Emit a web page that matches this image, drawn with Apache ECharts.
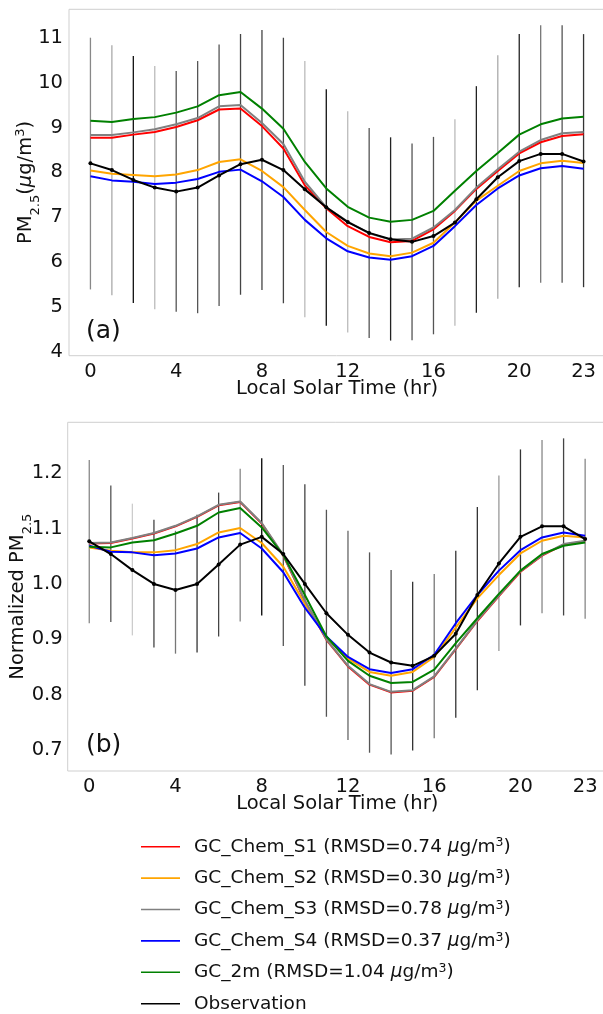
<!DOCTYPE html>
<html>
<head>
<meta charset="utf-8">
<script src="https://cdn.jsdelivr.net/npm/echarts@6/dist/echarts.min.js"></script>
<style>
html,body{margin:0;padding:0;background:#fff;}
#chart{width:603px;height:1014px;}
</style>
</head>
<body>
<div id="chart"></div>
<script>
// ---------- data ----------
const hours = [0,1,2,3,4,5,6,7,8,9,10,11,12,13,14,15,16,17,18,19,20,21,22,23];
const xTickLabels = [0,4,8,12,16,20,23];
const yTicksA = [4,5,6,7,8,9,10,11];
const yTicksB = [0.7,0.8,0.9,1.0,1.1,1.2];

const seriesNames = ['GC_Chem_S1','GC_Chem_S2','GC_Chem_S3','GC_Chem_S4','GC_2m','Observation'];
const rmsdLabels = ['0.74','0.30','0.78','0.37','1.04',null];

// panel (a): PM2.5 (ug/m3)
const s1A  = [8.77,8.77,8.84,8.90,9.01,9.16,9.40,9.42,9.03,8.53,7.71,7.20,6.80,6.56,6.44,6.47,6.73,7.14,7.63,8.03,8.42,8.67,8.81,8.85];
const s2A  = [8.04,7.97,7.94,7.91,7.95,8.05,8.23,8.29,8.03,7.67,7.16,6.67,6.36,6.19,6.13,6.21,6.43,6.88,7.37,7.70,8.03,8.20,8.26,8.21];
const s3A  = [8.83,8.83,8.89,8.96,9.07,9.21,9.47,9.50,9.10,8.63,7.79,7.22,6.90,6.64,6.50,6.52,6.77,7.16,7.66,8.07,8.46,8.72,8.87,8.90];
const s4A  = [7.91,7.82,7.79,7.74,7.77,7.85,8.01,8.06,7.80,7.45,6.94,6.53,6.24,6.10,6.05,6.13,6.36,6.80,7.27,7.64,7.93,8.09,8.14,8.08];
const m2A  = [9.15,9.12,9.19,9.23,9.33,9.47,9.72,9.79,9.42,8.97,8.23,7.64,7.23,6.99,6.90,6.94,7.14,7.59,8.03,8.43,8.84,9.07,9.20,9.24];
const obsA = [8.20,8.05,7.83,7.66,7.57,7.66,7.93,8.18,8.28,8.05,7.62,7.22,6.89,6.65,6.51,6.45,6.58,6.88,7.40,7.89,8.25,8.41,8.41,8.24];
const errHighA = [11.00,10.83,10.59,10.37,10.26,10.48,10.85,11.08,11.17,11.00,10.48,9.85,9.36,8.99,8.78,8.64,8.79,9.18,9.92,10.61,11.08,11.28,11.28,11.08];
const errLowA  = [5.39,5.26,5.09,4.95,4.89,4.86,5.02,5.27,5.38,5.08,4.77,4.58,4.43,4.31,4.25,4.26,4.39,4.58,4.87,5.18,5.44,5.54,5.54,5.44];

// panel (b): normalized PM2.5
const s1B  = [1.073,1.074,1.082,1.091,1.104,1.121,1.142,1.148,1.109,1.051,0.969,0.899,0.851,0.818,0.804,0.807,0.832,0.882,0.933,0.978,1.022,1.051,1.071,1.077];
const s2B  = [1.066,1.060,1.057,1.057,1.061,1.072,1.093,1.101,1.074,1.031,0.964,0.904,0.865,0.841,0.834,0.841,0.868,0.921,0.974,1.016,1.055,1.078,1.087,1.084];
const s3B  = [1.074,1.075,1.083,1.092,1.105,1.122,1.143,1.149,1.110,1.052,0.970,0.900,0.852,0.819,0.805,0.808,0.833,0.883,0.934,0.979,1.023,1.052,1.072,1.078];
const s4B  = [1.069,1.058,1.057,1.052,1.055,1.064,1.084,1.092,1.064,1.021,0.957,0.905,0.868,0.846,0.839,0.846,0.872,0.929,0.980,1.024,1.061,1.084,1.093,1.087];
const m2B  = [1.067,1.066,1.075,1.079,1.091,1.105,1.129,1.137,1.102,1.052,0.980,0.905,0.861,0.834,0.821,0.823,0.845,0.893,0.938,0.982,1.024,1.054,1.069,1.075];
const obsB = [1.077,1.054,1.025,1.000,0.989,1.000,1.035,1.071,1.085,1.054,1.000,0.947,0.908,0.876,0.858,0.852,0.870,0.910,0.980,1.037,1.085,1.104,1.104,1.081];
const errHighB = [1.224,1.178,1.145,1.116,1.096,1.125,1.165,1.208,1.227,1.215,1.180,1.134,1.096,1.057,1.025,1.004,1.018,1.060,1.139,1.196,1.243,1.260,1.263,1.226];
const errLowB  = [0.929,0.931,0.907,0.885,0.874,0.876,0.905,0.932,0.943,0.888,0.816,0.760,0.718,0.695,0.692,0.699,0.721,0.758,0.808,0.879,0.925,0.947,0.943,0.937];

// ---------- styles ----------
const lineColors = ['#ff0000','#ffa500','#808080','#0000ff','#008000','#000000'];
const barShadeA = ['#888','#aaa','#111','#bbb','#555','#555','#555','#444','#444','#444','#bbb','#111',
                   '#bbb','#555','#222','#555','#555','#bbb','#222','#aaa','#222','#777','#555','#333'];
const barShadeB = ['#888','#555','#ccc','#444','#777','#333','#444','#888','#000','#555','#444','#555',
                   '#666','#555','#555','#333','#777','#333','#333','#999','#333','#888','#444','#888'];
const FONT = 'DejaVu Sans';
const TXT = '#111';

const pairs = arr => hours.map((h,i)=>[h, arr[i]]);
const errData = (lo,hi) => hours.map((h,i)=>[h, lo[i], hi[i]]);

function errSeries(lo, hi, shades, axisIdx){
  return {
    type:'custom', xAxisIndex:axisIdx, yAxisIndex:axisIdx, silent:true, z:1,
    encode:{x:0, y:[1,2]},
    data: errData(lo,hi),
    renderItem:function(params, api){
      const p1 = api.coord([api.value(0), api.value(1)]);
      const p2 = api.coord([api.value(0), api.value(2)]);
      return {type:'line', shape:{x1:p1[0],y1:p1[1],x2:p2[0],y2:p2[1]},
              style:{stroke: shades[params.dataIndex], lineWidth:1.3}};
    }
  };
}
function lineSeries(name, arr, idx, axisIdx){
  const isObs = name === 'Observation';
  return {
    name:name, type:'line', xAxisIndex:axisIdx, yAxisIndex:axisIdx, z: 2+idx,
    data: pairs(arr), color: lineColors[idx],
    lineStyle:{width:2, color: lineColors[idx]},
    showSymbol: isObs, symbol:'circle', symbolSize: isObs ? 4 : 0,
    itemStyle:{color: lineColors[idx]},
    emphasis:{disabled:true}
  };
}

const axisFont = {fontFamily:FONT, fontSize:19.5, color:TXT};

function xAxisCfg(gridIdx){
  return {
    type:'value', gridIndex:gridIdx, min:-1, max:24,
    axisLine:{show:false}, axisTick:{show:false}, splitLine:{show:false},
    axisLabel:Object.assign({customValues:xTickLabels, margin:6}, axisFont),
    name:'Local Solar Time (hr)', nameLocation:'middle', nameGap:23, nameMoveOverlap:false,
    nameTextStyle:{fontFamily:FONT, fontSize:19.5, color:TXT}
  };
}

const chart = echarts.init(document.getElementById('chart'), null, {renderer:'canvas'});
const option = {
  animation:false,
  backgroundColor:'#fff',
  grid:[
    {left:69, top:9.3, width:536, height:346.4, show:true, borderColor:'#cfcfcf', borderWidth:1,
     backgroundColor:'transparent', containLabel:false, outerBoundsMode:'none'},
    {left:67.7, top:422.3, width:539, height:348.7, show:true, borderColor:'#cfcfcf', borderWidth:1,
     backgroundColor:'transparent', containLabel:false, outerBoundsMode:'none'}
  ],
  xAxis:[xAxisCfg(0), xAxisCfg(1)],
  yAxis:[
    {type:'value', gridIndex:0, min:3.913, max:11.633,
     axisLine:{show:false}, axisTick:{show:false}, splitLine:{show:false},
     axisLabel:Object.assign({customValues:yTicksA, margin:6}, axisFont),
     name:'PM{sub|2.5}({it|μ}g/m{sup|3})', nameLocation:'middle', nameGap:31, nameRotate:90,
     nameMoveOverlap:false,
     nameTextStyle:{fontFamily:FONT, fontSize:19.5, color:TXT, lineHeight:24,
       rich:{
         sub:{fontFamily:FONT, fontSize:13, color:TXT, verticalAlign:'bottom', lineHeight:24, padding:[0,0,-4,0]},
         sup:{fontFamily:FONT, fontSize:13, color:TXT, verticalAlign:'top', lineHeight:13},
         it:{fontFamily:FONT, fontSize:19.5, color:TXT, fontStyle:'italic', lineHeight:24}
       }}
    },
    {type:'value', gridIndex:1, min:0.662, max:1.292,
     axisLine:{show:false}, axisTick:{show:false}, splitLine:{show:false},
     axisLabel:Object.assign({customValues:yTicksB, margin:5, formatter:v=>v.toFixed(1)}, axisFont),
     name:'Normalized PM{sub|2.5}', nameLocation:'middle', nameGap:38, nameRotate:90,
     nameMoveOverlap:false,
     nameTextStyle:{fontFamily:FONT, fontSize:19.5, color:TXT, lineHeight:24,
       rich:{
         sub:{fontFamily:FONT, fontSize:13, color:TXT, verticalAlign:'bottom', lineHeight:24, padding:[0,0,-4,0]}
       }}
    }
  ],
  legend:{
    orient:'vertical', left:141, top:836.7, height:200, padding:0,
    itemWidth:39, itemHeight:1.6, itemGap:11.4, icon:'rect',
    data: seriesNames,
    selectedMode:false,
    formatter:function(name){
      const i = seriesNames.indexOf(name);
      if (rmsdLabels[i] === null) return '{g|}{t|' + name + '}';
      return '{g|}{t|' + name + ' (RMSD=' + rmsdLabels[i] + ' }{it|μ}{t|g/m}{sup|3}{t|)}';
    },
    textStyle:{fontFamily:FONT, fontSize:18.5, color:TXT, lineHeight:20,
      rich:{
        g:{width:9, lineHeight:20},
        t:{fontFamily:FONT, fontSize:18.5, color:TXT, lineHeight:20},
        it:{fontFamily:FONT, fontSize:18.5, color:TXT, fontStyle:'italic', lineHeight:20},
        sup:{fontFamily:FONT, fontSize:12.5, color:TXT, verticalAlign:'top', lineHeight:12}
      }}
  },
  graphic:[
    {type:'text', left:86, top:319, style:{text:'(a)', fontFamily:FONT, fontSize:25, fill:TXT}},
    {type:'text', left:86, top:733, style:{text:'(b)', fontFamily:FONT, fontSize:25, fill:TXT}}
  ],
  series:[
    errSeries(errLowA, errHighA, barShadeA, 0),
    lineSeries(seriesNames[0], s1A, 0, 0),
    lineSeries(seriesNames[1], s2A, 1, 0),
    lineSeries(seriesNames[2], s3A, 2, 0),
    lineSeries(seriesNames[3], s4A, 3, 0),
    lineSeries(seriesNames[4], m2A, 4, 0),
    lineSeries(seriesNames[5], obsA, 5, 0),
    errSeries(errLowB, errHighB, barShadeB, 1),
    lineSeries(seriesNames[0], s1B, 0, 1),
    lineSeries(seriesNames[1], s2B, 1, 1),
    lineSeries(seriesNames[2], s3B, 2, 1),
    lineSeries(seriesNames[3], s4B, 3, 1),
    lineSeries(seriesNames[4], m2B, 4, 1),
    lineSeries(seriesNames[5], obsB, 5, 1)
  ]
};
chart.setOption(option);
</script>
</body>
</html>
